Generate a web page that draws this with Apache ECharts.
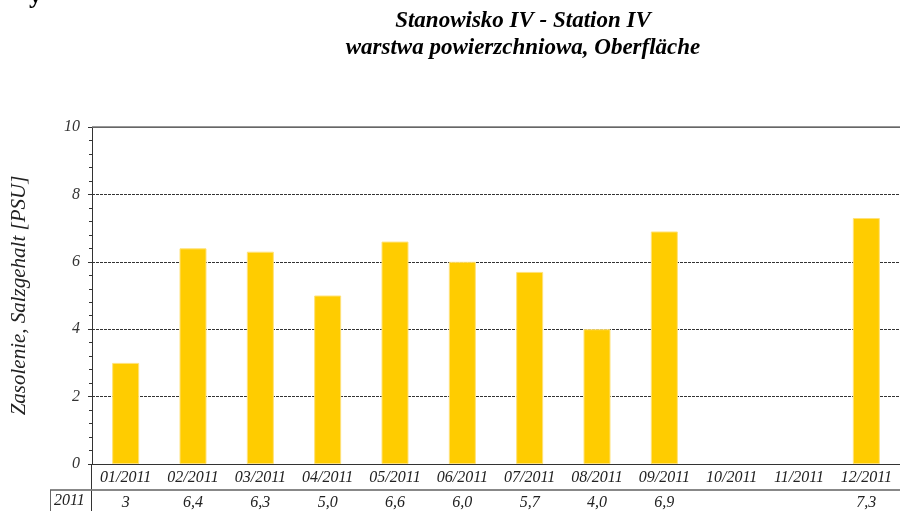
<!DOCTYPE html>
<html>
<head>
<meta charset="utf-8">
<script src="https://cdn.jsdelivr.net/npm/echarts@6/dist/echarts.min.js"></script>
<style>
  html, body { margin: 0; padding: 0; background: #fff; }
  #chart { width: 900px; height: 511px; }
</style>
</head>
<body>
<div id="chart"></div>
<script>
// months and salinity values (PSU), null where no measurement
const months = ['01/2011', '02/2011', '03/2011', '04/2011', '05/2011', '06/2011',
  '07/2011', '08/2011', '09/2011', '10/2011', '11/2011', '12/2011']
const salinity = [3.0, 6.4, 6.3, 5.0, 6.6, 6.0, 5.7, 4.0, 6.9, null, null, 7.3]
// table row under the axis, as printed
const tableValues = ['3', '6,4', '6,3', '5,0', '6,6', '6,0', '5,7', '4,0', '6,9', '', '', '7,3']
const tableYear = '2011'

const serif = '"Liberation Serif", "DejaVu Serif", serif'

const chart = echarts.init(document.getElementById('chart'))

chart.setOption({
  animation: false,
  title: {
    text: 'Stanowisko IV - Station IV',
    subtext: 'warstwa powierzchniowa, Oberfläche',
    left: 518,
    top: 5,
    textAlign: 'center',
    itemGap: 4,
    textStyle: { fontFamily: serif, fontSize: 23, fontWeight: 'bold', fontStyle: 'italic', color: '#000' },
    subtextStyle: { fontFamily: serif, fontSize: 23, fontWeight: 'bold', fontStyle: 'italic', color: '#000' }
  },
  grid: { left: 92, top: 127, width: 814, bottom: 47, containLabel: false },
  xAxis: [
    {
      type: 'category',
      data: months,
      axisLine: { lineStyle: { color: '#333', width: 1 } },
      axisTick: { show: false },
      axisLabel: { fontFamily: serif, fontStyle: 'italic', fontSize: 16, color: '#222', margin: 6, interval: 0 }
    },
    {
      type: 'category',
      data: tableValues,
      position: 'bottom',
      offset: 26,
      axisLine: { lineStyle: { color: '#888', width: 2 } },
      axisTick: { show: false },
      axisLabel: { fontFamily: serif, fontStyle: 'italic', fontSize: 16, color: '#222', margin: 5, interval: 0 }
    }
  ],
  yAxis: {
    type: 'value',
    min: 0,
    max: 10,
    interval: 2,
    name: 'Zasolenie, Salzgehalt [PSU]',
    nameLocation: 'middle',
    nameGap: 62,
    nameTextStyle: { fontFamily: serif, fontStyle: 'italic', fontSize: 21, color: '#222' },
    axisLine: { show: true, lineStyle: { color: '#333' } },
    axisTick: { show: true, length: 4, lineStyle: { color: '#333' } },
    minorTick: { show: true, splitNumber: 5, length: 3, lineStyle: { color: '#333' } },
    axisLabel: { fontFamily: serif, fontStyle: 'italic', fontSize: 16, color: '#333', margin: 12 },
    splitLine: { show: true, lineStyle: { color: '#333', type: [3, 1], width: 1 } }
  },
  series: [
    {
      type: 'bar',
      data: salinity,
      barWidth: 27,
      itemStyle: { color: '#FFCC00', borderColor: '#FFE27A', borderWidth: 1 }
    }
  ],
  graphic: [
    // top border of plot box, solid over the dashed split line
    { type: 'rect', z: 100, shape: { x: 92, y: 126, width: 808, height: 2 }, style: { fill: '#fff' } },
    { type: 'rect', z: 101, shape: { x: 92, y: 126.5, width: 808, height: 1.2 }, style: { fill: '#333' } },
    // year cell of the table
    { type: 'line', shape: { x1: 50, y1: 490, x2: 92, y2: 490 }, style: { stroke: '#888', lineWidth: 2 } },
    { type: 'line', shape: { x1: 50.5, y1: 490, x2: 50.5, y2: 511 }, style: { stroke: '#666', lineWidth: 1 } },
    { type: 'line', shape: { x1: 91.5, y1: 464, x2: 91.5, y2: 511 }, style: { stroke: '#333', lineWidth: 1 } },
    { type: 'text', left: 54, top: 493, style: { text: tableYear, font: 'italic 16px ' + serif, fill: '#222' } },
    // cut-off glyph at top left
    { type: 'text', left: 29, top: -17, style: { text: 'y', font: 'bold 26px ' + serif, fill: '#000' } }
  ]
})
</script>
</body>
</html>
